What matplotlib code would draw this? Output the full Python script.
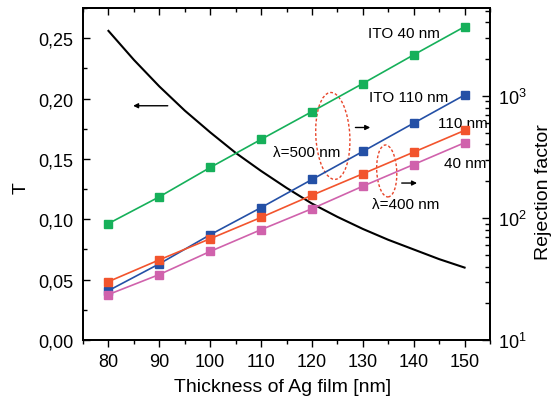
import matplotlib
matplotlib.use("Agg")
import matplotlib.pyplot as plt
import matplotlib.ticker as mticker
import matplotlib.transforms as mtransforms
from matplotlib.patches import Ellipse

plt.rcParams['font.family'] = ['Liberation Sans', 'DejaVu Sans']

# Ag film thickness [nm]
thickness = [80, 90, 100, 110, 120, 130, 140, 150]

# transmission T (left axis), read every 5 nm
t_thick = [80, 85, 90, 95, 100, 105, 110, 115, 120, 125, 130, 135, 140, 145, 150]
t_vals = [0.256, 0.232, 0.210, 0.190, 0.172, 0.155, 0.140, 0.126, 0.113,
          0.102, 0.092, 0.083, 0.075, 0.067, 0.060]

# rejection factor (right axis, log)
rej_ito40 = [90, 149, 259, 440, 743, 1262, 2168, 3683]
rej_ito110 = [25.4, 42.1, 72.9, 121.6, 206.5, 350.6, 598, 1016]
rej_400_110 = [30.1, 45.4, 67.6, 101, 153.4, 230, 346, 521]
rej_400_40 = [23.6, 34.4, 53.2, 80.2, 119, 182, 274, 413]

fig = plt.figure(figsize=(5.52, 4.06), dpi=100)
ax = fig.add_axes([0.1504, 0.160, 0.7373, 0.818])
ax2 = ax.twinx()

ax.plot(t_thick, t_vals, color='black', lw=1.5, zorder=3)

ms = 5.5
ax2.plot(thickness, rej_ito40, color='#16b05a', marker='s', ms=ms, lw=1.2)
ax2.plot(thickness, rej_ito110, color='#2450a6', marker='s', ms=ms, lw=1.2)
ax2.plot(thickness, rej_400_110, color='#f2542d', marker='s', ms=ms, lw=1.2)
ax2.plot(thickness, rej_400_40, color='#d062ac', marker='s', ms=ms, lw=1.2)

ax.set_xlim(75, 155)
ax.set_ylim(0, 0.275)
ax2.set_yscale('log')
ax2.set_ylim(10, 5250)

ax.set_xticks(thickness)
ax.xaxis.set_minor_locator(mticker.MultipleLocator(5))
ax.set_yticks([0, 0.05, 0.10, 0.15, 0.20, 0.25])
ax.yaxis.set_minor_locator(mticker.MultipleLocator(0.025))
ax.yaxis.set_major_formatter(mticker.FuncFormatter(lambda v, p: f"{v:.2f}".replace('.', ',')))

ax.tick_params(axis='x', which='both', direction='out', labelsize=13, pad=4)
ax.tick_params(axis='y', which='both', direction='in', labelsize=13, pad=7)
ax.tick_params(which='major', length=5, width=1)
ax.tick_params(which='minor', length=3, width=1)
ax2.tick_params(axis='y', which='both', direction='in', labelsize=13, pad=6)
ax2.tick_params(which='major', length=6, width=1)
ax2.tick_params(which='minor', length=3.5, width=1)

# top ticks point inward
top = ax.secondary_xaxis('top')
top.set_xticks(thickness)
top.xaxis.set_minor_locator(mticker.MultipleLocator(5))
top.tick_params(which='both', direction='in', labeltop=False, width=1)
top.tick_params(which='major', length=5)
top.tick_params(which='minor', length=3)

for a in (ax, ax2, top):
    for s in a.spines.values():
        s.set_linewidth(1.3)

ax.set_xlabel('Thickness of Ag film [nm]', fontsize=14)
ax.set_ylabel('T', fontsize=14)
ax2.set_ylabel('Rejection factor', fontsize=14)
ax.xaxis.set_label_coords(0.49, -0.115)
ax.yaxis.set_label_coords(-0.13, 0.46)
ax2.yaxis.set_label_coords(1.11, 0.45)

fs = 11
ax.text(138.1, 0.254, 'ITO 40 nm', fontsize=fs, ha='center', va='center')
ax.text(139.0, 0.2014, 'ITO 110 nm', fontsize=fs, ha='center', va='center')
ax.text(149.6, 0.180, '110 nm', fontsize=fs, ha='center', va='center')
ax.text(150.2, 0.1465, '40 nm', fontsize=fs, ha='center', va='center')
ax.text(119.0, 0.1554, 'λ=500 nm', fontsize=fs, ha='center', va='center')
ax.text(138.4, 0.1126, 'λ=400 nm', fontsize=fs, ha='center', va='center')

arrow = dict(arrowstyle='-|>', color='black', lw=1, mutation_scale=7)
ax.annotate('', xy=(84.3, 0.194), xytext=(92.2, 0.194), arrowprops=arrow)
ax.annotate('', xy=(132.0, 0.176), xytext=(128.0, 0.176), arrowprops=arrow)
ax.annotate('', xy=(141.2, 0.130), xytext=(137.1, 0.130), arrowprops=arrow)

for cx, cy, w, h, ang in [(124.1, 0.169, 34, 87, 3), (134.7, 0.140, 20, 52, 3)]:
    tr = mtransforms.ScaledTranslation(cx, cy, ax.transData)
    ax.add_patch(Ellipse((0, 0), w, h, angle=ang, fill=False, ls=(0, (2, 1.5)),
                         ec='#e8452a', lw=1, transform=tr, zorder=4))

fig.savefig('out.png', dpi=100)
